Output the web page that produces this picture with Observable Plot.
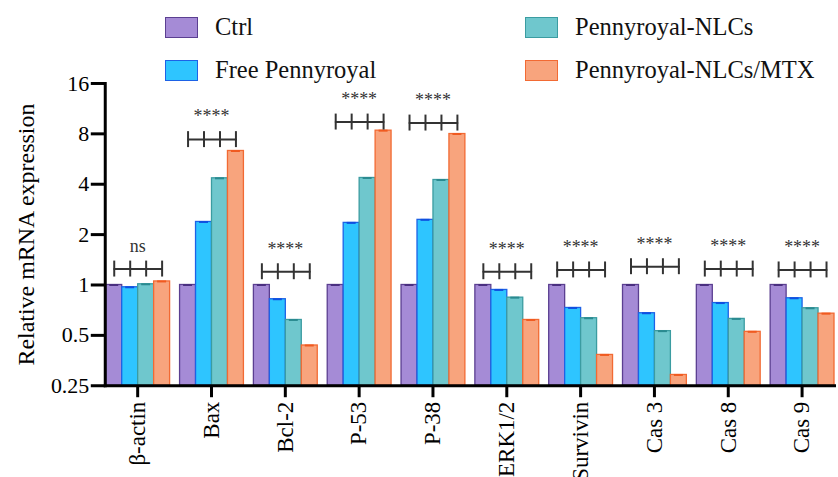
<!DOCTYPE html>
<html>
<head>
<meta charset="utf-8">
<script src="https://cdn.jsdelivr.net/npm/d3@7"></script>
<script src="https://cdn.jsdelivr.net/npm/@observablehq/plot@0.6"></script>
<style>
  body { margin: 0; background: #fff; overflow: hidden; font-family: "Liberation Serif", "Times New Roman", serif; }
  #legend { position: absolute; left: 0; top: 0; width: 838px; height: 90px; z-index: 2; }
  #chart { position: absolute; left: 0; top: 72px; }
  .item { position: absolute; height: 20px; display: flex; align-items: center; font-size: 24.5px; color: #111; white-space: nowrap; }
  .sw { box-sizing: border-box; width: 33px; height: 21px; border: 1.5px solid; margin-right: 17px; flex: none; }
</style>
</head>
<body>
<div id="legend"></div>
<div id="chart"></div>
<script>
// Genes measured and treatment groups
const genes = ["β-actin", "Bax", "Bcl-2", "P-53", "P-38", "ERK1/2", "Survivin", "Cas 3", "Cas 8", "Cas 9"];
const series = ["Ctrl", "Free Pennyroyal", "Pennyroyal-NLCs", "Pennyroyal-NLCs/MTX"];

// Relative mRNA expression (fold change vs. control)
const ctrl      = [1.00, 1.00, 1.00, 1.00, 1.00, 1.00, 1.00, 1.00, 1.00, 1.00];
const freeP     = [0.969, 2.38, 0.822, 2.35, 2.45, 0.934, 0.729, 0.678, 0.78, 0.833];
const nlc       = [1.01, 4.34, 0.618, 4.36, 4.24, 0.84, 0.633, 0.53, 0.627, 0.726];
const nlcMtx    = [1.05, 6.32, 0.435, 8.36, 7.98, 0.618, 0.382, 0.29, 0.525, 0.674];

// Significance bracket heights and labels
const bracketLevel = [1.245, 7.39, 1.2, 9.41, 9.28, 1.2, 1.23, 1.286, 1.245, 1.23];
const significance = ["ns", "****", "****", "****", "****", "****", "****", "****", "****", "****"];

// Y axis ticks
const yTicks = [0.25, 0.5, 1, 2, 4, 8, 16];
const yTickLabels = ["0.25", "0.5", "1", "2", "4", "8", "16"];
const yTitle = "Relative mRNA expression";

// Group colours
const fills   = ["#a58bd6", "#2ec5ff", "#6fc7cd", "#f8a47d"];
const strokes = ["#5b3f91", "#1d62e6", "#3b9ca1", "#f26a33"];
const caps    = ["#4a2f80", "#0f50e0", "#2a8a90", "#f05a20"];

const values = [ctrl, freeP, nlc, nlcMtx];
const fillOf = Object.fromEntries(series.map((s, j) => [s, fills[j]]));
const strokeOf = Object.fromEntries(series.map((s, j) => [s, strokes[j]]));
const capOf = Object.fromEntries(series.map((s, j) => [s, caps[j]]));

const rows = genes.flatMap((g, i) => series.map((s, j) => ({gene: g, series: s, value: values[j][i]})));
const bracketPts = genes.flatMap((g, i) => series.map(s => ({gene: g, series: s, level: bracketLevel[i]})));
const sigLabels = genes.map((g, i) => ({gene: g, level: bracketLevel[i], text: significance[i]}));
const tickHalf = 1.116; // half-height of bracket ticks on the log2 scale

// Legend
const legend = document.getElementById("legend");
const legendPos = [[165, 17], [165, 60], [525, 17], [525, 60]];
series.forEach((s, j) => {
  const it = document.createElement("div");
  it.className = "item";
  it.style.left = legendPos[j][0] + "px";
  it.style.top = legendPos[j][1] + "px";
  const sw = document.createElement("span");
  sw.className = "sw";
  sw.style.background = fills[j];
  sw.style.borderColor = strokes[j];
  it.appendChild(sw);
  it.appendChild(document.createTextNode(s));
  legend.appendChild(it);
});

const chart = Plot.plot({
  width: 840,
  height: 405,
  marginLeft: 101,
  marginRight: 0,
  marginTop: 11,
  marginBottom: 91,
  style: {fontFamily: "'Liberation Serif', 'Times New Roman', serif", background: "transparent", color: "#000", overflow: "visible"},
  fx: {domain: genes, paddingInner: 0.12, paddingOuter: 0.027, label: null},
  x: {domain: series, padding: 0, axis: null},
  y: {type: "log", base: 2, domain: [0.25, 16]},
  marks: [
    Plot.barY(rows, {fx: "gene", x: "series", y1: 0.25, y2: "value",
      fill: d => fillOf[d.series], stroke: d => strokeOf[d.series], strokeWidth: 1.3}),
    Plot.tickY(rows, {fx: "gene", x: "series", y: "value",
      stroke: d => capOf[d.series], strokeWidth: 2, inset: 3.5}),
    Plot.lineY(bracketPts, {fx: "gene", x: "series", y: "level", stroke: "#333", strokeWidth: 2}),
    Plot.ruleX(bracketPts, {fx: "gene", x: "series", y1: d => d.level / tickHalf, y2: d => d.level * tickHalf,
      stroke: "#333", strokeWidth: 2}),
    Plot.text(sigLabels, {fx: "gene", y: "level", text: "text", dy: -23, fontSize: 18, fill: "#333", lineAnchor: "middle"}),
    Plot.frame({anchor: "bottom", facet: "super", stroke: "#000", strokeWidth: 3}),
    Plot.frame({anchor: "left", facet: "super", stroke: "#000", strokeWidth: 3}),
    Plot.axisY({ticks: yTicks, tickFormat: d => yTickLabels[yTicks.indexOf(d)],
      tickSize: 14, tickPadding: 2, strokeWidth: 3, fontSize: 22, label: null}),
    Plot.text([yTitle], {facet: "super", frameAnchor: "left", rotate: -90, dx: -79,
      fontSize: 24, lineAnchor: "middle", textAnchor: "middle", fill: "#000"}),
    Plot.axisFx({anchor: "bottom", tickRotate: -90, tickSize: 12, tickPadding: 4, strokeWidth: 3, fontSize: 23, label: null})
  ]
});
document.getElementById("chart").appendChild(chart);
</script>
</body>
</html>
